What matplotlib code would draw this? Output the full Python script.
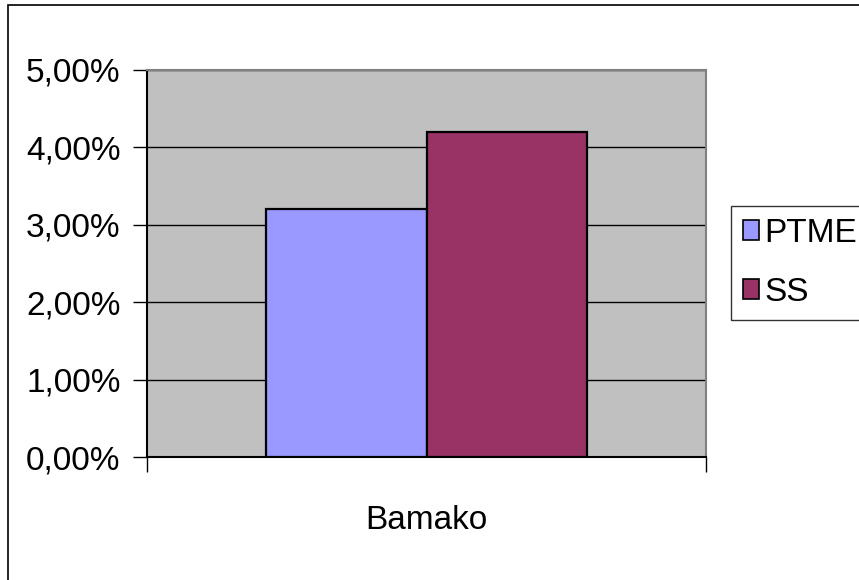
import matplotlib.pyplot as plt
from matplotlib.patches import Rectangle

# data
category = "Bamako"
series = ["PTME", "SS"]
values = [3.2, 4.2]  # percent
colors = ["#9999FF", "#993366"]
yticks = [0, 1, 2, 3, 4, 5]
ytick_labels = ["0,00%", "1,00%", "2,00%", "3,00%", "4,00%", "5,00%"]

plt.rcParams['font.family'] = ['Liberation Sans', 'DejaVu Sans']

fig = plt.figure(figsize=(8.59, 5.80), dpi=100)
ax = fig.add_axes([147 / 859, 1 - 457 / 580, 559 / 859, 387 / 580])
ax.set_facecolor("#C0C0C0")

# frame around the whole chart (only top and left visible in the original)
fig.patches.append(Rectangle((8 / 859, -0.2), 1.2, 1.2 - 5 / 580, transform=fig.transFigure,
                             fill=False, edgecolor="black", linewidth=1.2))

width = 0.2875
offsets = [-width / 2, width / 2]
for name, v, c, off in zip(series, values, colors, offsets):
    ax.bar(off, v, width=width, color=c, edgecolor="black", linewidth=1.6, label=name, zorder=3)

ax.set_xlim(-0.5, 0.5)
ax.set_ylim(0, 5)
ax.set_yticks(yticks)
ax.set_yticklabels(ytick_labels, fontsize=24)
ax.yaxis.grid(True, color="black", linewidth=1, zorder=1)
ax.set_axisbelow(True)

ax.set_xticks([-0.5, 0.5])
ax.set_xticklabels([])
ax.tick_params(axis='x', length=11, width=1, color="black")
ax.tick_params(axis='y', length=10, width=1, color="black", pad=9)
ax.text(0, -0.82, category, ha="center", va="center", fontsize=24, transform=ax.transData)

ax.spines['left'].set_color("black")
ax.spines['bottom'].set_color("black")
ax.spines['top'].set_color("#808080")
ax.spines['right'].set_color("#808080")
for s in ax.spines.values():
    s.set_linewidth(1.5)

leg = fig.legend(loc="upper left", bbox_to_anchor=(731 / 859, 1 - 206 / 580), fontsize=24,
                 frameon=True, fancybox=False, borderaxespad=0, borderpad=0.35,
                 handlelength=0.5, handleheight=0.55, handletextpad=0.15, labelspacing=0.85)
leg.get_frame().set_edgecolor("black")
leg.get_frame().set_linewidth(1.0)
for h in leg.legend_handles:
    h.set_linewidth(1.2)

fig.savefig("out.png", dpi=100)
